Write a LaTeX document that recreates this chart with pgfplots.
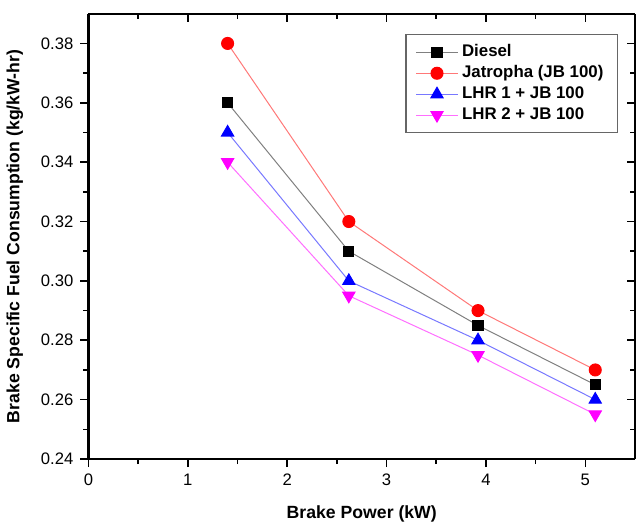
\documentclass[border=0pt]{standalone}
\usepackage{pgfplots}
\pgfplotsset{compat=1.18}
\usepackage{fontspec}
\setmainfont{Liberation Sans}
\definecolor{dsl}{RGB}{128,128,128}
\definecolor{jline}{RGB}{255,120,120}
\definecolor{l1line}{RGB}{120,120,255}
\definecolor{l2line}{RGB}{255,110,255}
\definecolor{mag}{RGB}{255,0,255}
\definecolor{rd}{RGB}{255,0,0}
\definecolor{bl}{RGB}{0,0,255}
\begin{document}
\begin{tikzpicture}[font=\fontsize{8.3}{10}\selectfont]
% frame ticks on top and right, pointing in
\begin{axis}[
    scale only axis, width=272.5pt, height=222pt,
    xmin=0, xmax=5.5, ymin=0.24, ymax=0.39,
    axis x line*=top, axis y line*=right,
    axis line style={line width=1pt, -},
    xtick={0,1,...,5}, ytick={0.24,0.26,...,0.381},
    minor x tick num=1, minor y tick num=1,
    tick align=inside, major tick length=4pt, minor tick length=2.5pt,
    tick style={line width=0.8pt, black},
    xticklabels={}, yticklabels={},
    yticklabel style={overlay},
]
\end{axis}
\begin{axis}[
    scale only axis, width=272.5pt, height=222pt,
    xmin=0, xmax=5.5, ymin=0.24, ymax=0.39,
    axis x line*=bottom, axis y line*=left,
    axis line style={line width=1pt, -},
    xtick={0,1,...,5}, ytick={0.24,0.26,...,0.381},
    minor x tick num=1, minor y tick num=1,
    tick align=outside, major tick length=4pt, minor tick length=2.5pt,
    tick style={line width=0.8pt, black},
    yticklabel style={/pgf/number format/.cd, fixed, fixed zerofill, precision=2},
    /pgf/number format/assume math mode=true,
    xlabel={\bfseries\fontsize{8.8}{10}\selectfont Brake Power (kW)},
    ylabel={\bfseries\fontsize{8.8}{10}\selectfont Brake Specific Fuel Consumption (kg/kW-hr)},
    xlabel style={yshift=-3pt},
    ylabel style={yshift=2pt},
    legend style={at={(0.969,0.955)}, anchor=north east, draw=black!60, line width=0.6pt,
        font=\bfseries\fontsize{8.4}{10}\selectfont, row sep=-1pt,
        inner xsep=5pt, inner ysep=3pt},
    legend cell align=left,
    legend image code/.code={
        \draw[mark repeat=2,mark phase=2] plot coordinates {(0cm,0cm) (0.36cm,0cm) (0.72cm,0cm)};},
    every axis plot/.append style={line width=0.5pt},
]
\addplot[color=dsl, mark=square*, mark size=2.5pt, mark options={fill=black, draw=black}] coordinates {
  (1.4, 0.36) (2.62, 0.31) (3.92, 0.285) (5.1, 0.265)
};
\addlegendentry{Diesel}
\addplot[color=jline, mark=*, mark size=3pt, mark options={fill=rd, draw=rd}] coordinates {
  (1.4, 0.38) (2.62, 0.32) (3.92, 0.29) (5.1, 0.27)
};
\addlegendentry{Jatropha (JB 100)}
\addplot[color=l1line, mark=triangle*, mark size=3.5pt, mark options={fill=bl, draw=bl}] coordinates {
  (1.4, 0.35) (2.62, 0.30) (3.92, 0.28) (5.1, 0.26)
};
\addlegendentry{LHR 1 + JB 100}
\addplot[color=l2line, mark=triangle*, mark size=3.5pt, mark options={fill=mag, draw=mag, rotate=180}] coordinates {
  (1.4, 0.34) (2.62, 0.295) (3.92, 0.275) (5.1, 0.255)
};
\addlegendentry{LHR 2 + JB 100}
\end{axis}
\end{tikzpicture}
\end{document}
